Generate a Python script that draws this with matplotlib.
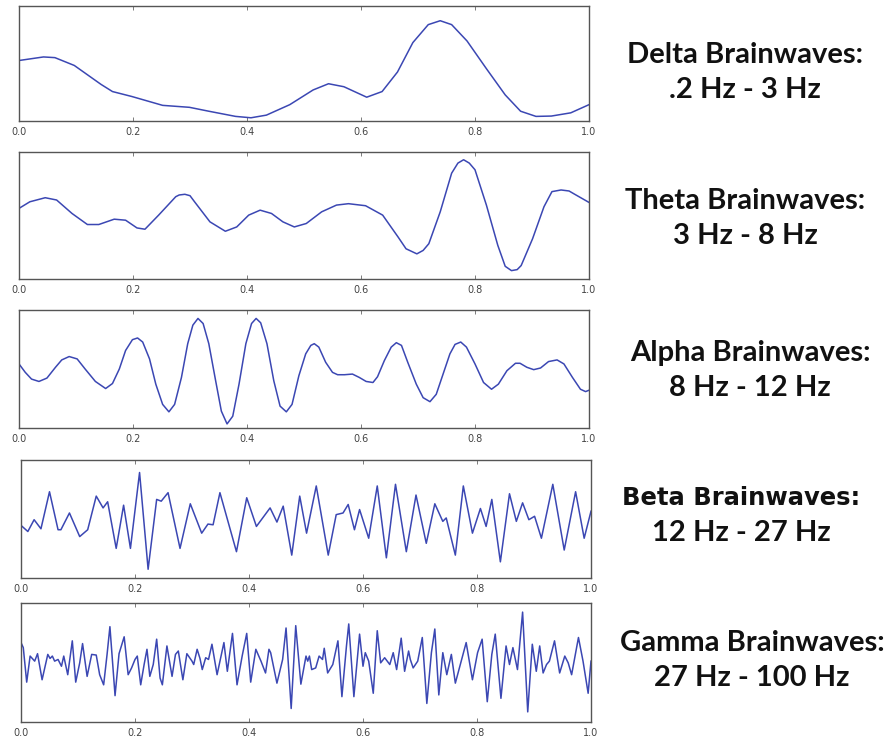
import matplotlib
matplotlib.use("Agg")
import matplotlib.pyplot as plt

# sampled EEG traces, time 0..1 s, amplitude in arbitrary units (-1..1)
delta_t = [0.000, 0.043, 0.063, 0.097, 0.144, 0.164, 0.198, 0.252, 0.299, 0.333, 0.380,
           0.407, 0.434, 0.475, 0.516, 0.543, 0.570, 0.610, 0.637, 0.664, 0.691, 0.718,
           0.739, 0.759, 0.786, 0.820, 0.853, 0.880, 0.907, 0.934, 0.968, 1.000]
delta_v = [0.052, 0.114, 0.102, -0.034, -0.364, -0.488, -0.574, -0.728, -0.762, -0.830, -0.920,
           -0.944, -0.898, -0.716, -0.460, -0.352, -0.404, -0.586, -0.488, -0.148, 0.364, 0.676,
           0.744, 0.676, 0.392, -0.090, -0.546, -0.830, -0.920, -0.914, -0.858, -0.716]

theta_t = [0.000, 0.019, 0.046, 0.066, 0.093, 0.120, 0.140, 0.167, 0.187, 0.207, 0.221,
           0.245, 0.275, 0.281, 0.291, 0.300, 0.308, 0.335, 0.362, 0.382, 0.403, 0.423,
           0.443, 0.463, 0.483, 0.504, 0.531, 0.557, 0.578, 0.608, 0.638, 0.665, 0.679,
           0.698, 0.709, 0.719, 0.739, 0.759, 0.770, 0.780, 0.790, 0.800, 0.820, 0.840,
           0.853, 0.864, 0.874, 0.881, 0.901, 0.921, 0.935, 0.951, 0.965, 0.975, 1.000]
theta_v = [0.112, 0.216, 0.280, 0.244, 0.032, -0.142, -0.142, -0.058, -0.074, -0.196, -0.216,
           0.006, 0.296, 0.323, 0.334, 0.312, 0.216, -0.100, -0.248, -0.180, 0.006, 0.084,
           0.032, -0.100, -0.180, -0.126, 0.058, 0.164, 0.186, 0.154, 0.006, -0.338, -0.524,
           -0.604, -0.550, -0.444, 0.058, 0.666, 0.825, 0.878, 0.825, 0.720, 0.164, -0.470,
           -0.800, -0.868, -0.852, -0.788, -0.366, 0.138, 0.376, 0.402, 0.386, 0.334, 0.206]

alpha_t = [0.000, 0.011, 0.022, 0.035, 0.049, 0.064, 0.075, 0.088, 0.102, 0.116, 0.134,
           0.152, 0.164, 0.176, 0.187, 0.199, 0.208, 0.217, 0.229, 0.240, 0.252, 0.263,
           0.273, 0.285, 0.296, 0.305, 0.314, 0.323, 0.333, 0.345, 0.355, 0.365, 0.375,
           0.386, 0.398, 0.408, 0.416, 0.424, 0.435, 0.447, 0.458, 0.469, 0.479, 0.491,
           0.503, 0.512, 0.518, 0.526, 0.538, 0.550, 0.559, 0.571, 0.585, 0.597, 0.609,
           0.621, 0.629, 0.641, 0.653, 0.662, 0.671, 0.682, 0.697, 0.709, 0.721, 0.732,
           0.744, 0.756, 0.765, 0.775, 0.785, 0.800, 0.815, 0.829, 0.841, 0.856, 0.871,
           0.879, 0.891, 0.903, 0.915, 0.929, 0.944, 0.956, 0.971, 0.985, 0.994, 1.000]
alpha_v = [0.086, -0.057, -0.171, -0.211, -0.154, 0.029, 0.154, 0.211, 0.171, 0.000, -0.211,
           -0.331, -0.246, 0.000, 0.314, 0.497, 0.526, 0.457, 0.171, -0.257, -0.600, -0.726,
           -0.600, -0.143, 0.429, 0.743, 0.857, 0.771, 0.429, -0.200, -0.714, -0.931, -0.800,
           -0.257, 0.429, 0.771, 0.857, 0.783, 0.429, -0.200, -0.629, -0.726, -0.600, -0.114,
           0.257, 0.400, 0.429, 0.371, 0.114, -0.057, -0.097, -0.097, -0.086, -0.143, -0.211,
           -0.229, -0.131, 0.143, 0.371, 0.446, 0.400, 0.114, -0.257, -0.486, -0.554, -0.429,
           -0.086, 0.257, 0.417, 0.457, 0.371, 0.086, -0.229, -0.343, -0.257, -0.029, 0.097,
           0.097, 0.029, -0.011, 0.017, 0.126, 0.154, 0.086, -0.143, -0.343, -0.383, -0.360]

beta_t = [0.000, 0.012, 0.023, 0.035, 0.050, 0.065, 0.070, 0.085, 0.103, 0.117, 0.132,
          0.144, 0.152, 0.167, 0.180, 0.192, 0.208, 0.223, 0.238, 0.246, 0.258, 0.279,
          0.297, 0.317, 0.328, 0.337, 0.349, 0.378, 0.396, 0.413, 0.437, 0.449, 0.460,
          0.475, 0.489, 0.501, 0.518, 0.539, 0.553, 0.565, 0.574, 0.585, 0.594, 0.610,
          0.625, 0.641, 0.657, 0.676, 0.693, 0.711, 0.726, 0.740, 0.746, 0.762, 0.776,
          0.792, 0.806, 0.816, 0.826, 0.841, 0.857, 0.869, 0.880, 0.891, 0.901, 0.913,
          0.933, 0.953, 0.973, 0.988, 1.000]
beta_v = [-0.108, -0.212, -0.012, -0.166, 0.462, -0.182, -0.182, 0.102, -0.298, -0.182, 0.388,
          0.188, 0.292, -0.498, 0.234, -0.498, 0.788, -0.852, 0.332, 0.302, 0.446, -0.498,
          0.258, -0.240, -0.086, -0.098, 0.446, -0.554, 0.360, -0.126, 0.188, -0.052, 0.218,
          -0.612, 0.388, -0.240, 0.560, -0.612, 0.074, 0.102, 0.246, -0.182, 0.160, -0.326,
          0.560, -0.658, 0.588, -0.554, 0.406, -0.412, 0.258, -0.040, 0.018, -0.612, 0.560,
          -0.240, 0.178, -0.126, 0.332, -0.726, 0.428, -0.040, 0.274, -0.012, 0.046, -0.326,
          0.588, -0.526, 0.462, -0.326, 0.132]

gamma_t = [0.000, 0.004, 0.010, 0.016, 0.024, 0.029, 0.037, 0.047, 0.051, 0.055, 0.059,
           0.065, 0.071, 0.075, 0.082, 0.090, 0.096, 0.103, 0.108, 0.116, 0.124, 0.132,
           0.138, 0.145, 0.151, 0.156, 0.165, 0.172, 0.181, 0.188, 0.194, 0.200, 0.204,
           0.210, 0.216, 0.221, 0.226, 0.232, 0.238, 0.244, 0.248, 0.256, 0.265, 0.271,
           0.276, 0.284, 0.291, 0.300, 0.303, 0.309, 0.314, 0.318, 0.324, 0.329, 0.335,
           0.344, 0.356, 0.362, 0.371, 0.379, 0.388, 0.396, 0.403, 0.412, 0.421, 0.429,
           0.435, 0.438, 0.449, 0.459, 0.465, 0.474, 0.482, 0.491, 0.500, 0.503, 0.506,
           0.510, 0.517, 0.523, 0.529, 0.532, 0.538, 0.547, 0.556, 0.563, 0.571, 0.575,
           0.584, 0.594, 0.600, 0.604, 0.610, 0.618, 0.625, 0.631, 0.638, 0.647, 0.653,
           0.659, 0.667, 0.673, 0.680, 0.683, 0.688, 0.696, 0.704, 0.712, 0.720, 0.726,
           0.733, 0.740, 0.747, 0.755, 0.762, 0.774, 0.781, 0.792, 0.801, 0.809, 0.818,
           0.826, 0.832, 0.842, 0.851, 0.857, 0.863, 0.871, 0.880, 0.889, 0.897, 0.904,
           0.910, 0.916, 0.922, 0.927, 0.936, 0.945, 0.954, 0.960, 0.966, 0.978, 0.986,
           0.995, 1.000]
gamma_v = [0.335, 0.250, -0.330, 0.108, 0.023, 0.148, -0.290, 0.136, 0.068, 0.108, 0.023,
           0.051, -0.063, 0.108, -0.205, 0.364, -0.330, -0.006, 0.318, -0.233, 0.136, 0.125,
           -0.205, -0.375, 0.136, 0.602, -0.557, 0.148, 0.432, -0.205, -0.091, 0.051, 0.108,
           -0.375, -0.034, 0.222, -0.233, -0.034, 0.392, -0.261, -0.375, 0.278, -0.233, 0.136,
           0.193, -0.290, 0.148, 0.023, -0.034, 0.222, 0.068, -0.119, 0.080, 0.051, 0.307,
           -0.205, 0.335, -0.148, 0.489, -0.375, 0.108, 0.489, -0.330, 0.222, 0.023, -0.176,
           0.222, 0.165, -0.347, 0.051, 0.580, -0.773, 0.619, -0.364, 0.108, 0.023, 0.108,
           -0.119, -0.091, 0.108, 0.051, 0.239, -0.176, -0.034, 0.364, -0.574, 0.278, 0.648,
           -0.574, 0.477, -0.063, 0.165, 0.023, -0.517, 0.534, -0.006, 0.080, -0.034, 0.165,
           -0.119, 0.409, -0.148, 0.193, 0.051, -0.091, 0.023, 0.420, -0.688, 0.165, 0.563,
           -0.545, 0.165, -0.205, 0.136, -0.347, 0.080, 0.335, -0.290, 0.165, 0.392, -0.659,
           0.136, 0.477, -0.602, 0.278, -0.034, 0.250, -0.119, 0.847, -0.830, 0.307, -0.148,
           0.278, -0.176, -0.034, 0.023, 0.364, -0.176, 0.108, -0.006, -0.205, 0.420, 0.023,
           -0.517, 0.023]

band_names = ["Delta Brainwaves:", "Theta Brainwaves:", "Alpha Brainwaves:",
              "Beta Brainwaves:", "Gamma Brainwaves:"]
band_ranges = [".2 Hz - 3 Hz", "3 Hz - 8 Hz", "8 Hz - 12 Hz",
               "12 Hz - 27 Hz", "27 Hz - 100 Hz"]
x_ticks = [0.0, 0.2, 0.4, 0.6, 0.8, 1.0]

traces = [(delta_t, delta_v), (theta_t, theta_v), (alpha_t, alpha_v),
          (beta_t, beta_v), (gamma_t, gamma_v)]

W, H = 892, 740
fig = plt.figure(figsize=(W / 100, H / 100), dpi=100)

# panel boxes in pixels: left, top, right, bottom
boxes = [(19, 6, 589, 121), (19, 152, 589, 279), (19, 310, 589, 428),
         (21, 460, 591, 578), (21, 603, 591, 722)]
label_x = [745, 745, 750, 741, 752]
label_y = [72, 218, 370, 515, 660]

for i, ((t, v), (l, tp, r, b)) in enumerate(zip(traces, boxes)):
    ax = fig.add_axes([l / W, 1 - b / H, (r - l) / W, (b - tp) / H])
    ax.plot(t, v, color="#3b47b3", lw=1.1, solid_joinstyle="round")
    ax.set_xlim(0, 1)
    ax.set_ylim(-1, 1)
    ax.set_yticks([])
    ax.set_xticks(x_ticks)
    ax.set_xticklabels([f"{x:.1f}" for x in x_ticks])
    ax.tick_params(axis="x", direction="in", top=True, length=3, width=0.6,
                   color="#666666", labelsize=7, labelcolor="#444444", pad=4)
    for s in ax.spines.values():
        s.set_color("#555555")
        s.set_linewidth(1.0)

    name_font = "DejaVu Sans" if i == 3 else "Lato"
    name_size = 17.5 if i == 3 else 21
    fig.text(label_x[i] / W, 1 - (label_y[i] - 17) / H, band_names[i],
             ha="center", va="center", fontsize=name_size, fontweight="bold",
             family=name_font, color="#111111")
    fig.text(label_x[i] / W, 1 - (label_y[i] + 18) / H, band_ranges[i],
             ha="center", va="center", fontsize=21, fontweight="bold",
             family="Lato", color="#111111")

fig.savefig("out.png", dpi=100)
